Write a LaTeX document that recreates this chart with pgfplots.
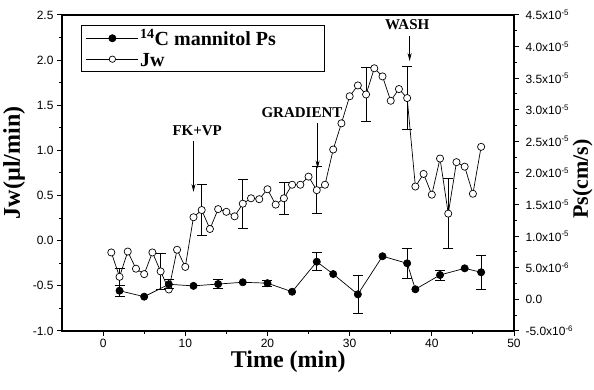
\documentclass[border=0pt]{standalone}
\usepackage{fontspec}
\setmainfont{Liberation Serif}
\newfontfamily\ticksans{Liberation Sans}
\usepackage{pgfplots}
\usepackage{pgfplotstable}
\pgfplotsset{compat=1.18}
\usetikzlibrary{arrows.meta}

\pgfplotstableread{
x jw
1 -0.13
2 -0.40
3 -0.12
4 -0.31
5 -0.37
6 -0.13
7 -0.34
8 -0.54
9 -0.10
10 -0.29
11 0.26
12 0.34
13 0.13
14 0.35
15 0.32
16 0.27
17 0.41
18 0.47
19 0.46
20 0.57
21 0.40
22 0.47
23 0.62
24 0.62
25 0.71
26 0.56
27 0.62
28 1.01
29 1.30
30 1.60
31 1.72
32 1.62
33 1.91
34 1.82
35 1.55
36 1.68
37 1.58
38 0.60
39 0.74
40 0.51
41 0.91
42 0.30
43 0.87
44 0.82
45 0.52
46 1.04
}\jwdata

\pgfplotstableread{
x jw err
2 -0.40 0.09
7 -0.34 0.20
12 0.34 0.28
17 0.41 0.27
22 0.47 0.18
26 0.56 0.26
32 1.62 0.30
37 1.58 0.35
42 0.30 0.39
}\jwerr

\pgfplotstableread{
x ps
2 1.37e-6
5 0.43e-6
8 2.39e-6
11 2.14e-6
14 2.43e-6
17 2.71e-6
20 2.57e-6
23 1.21e-6
26 5.96e-6
28 4.01e-6
31 0.80e-6
34 6.83e-6
37 5.71e-6
38 1.60e-6
41 3.86e-6
44 4.92e-6
46 4.29e-6
}\psdata

\pgfplotstableread{
x ps err
2 1.37e-6 0.93e-6
8 2.39e-6 0.71e-6
14 2.43e-6 0.71e-6
20 2.57e-6 0.43e-6
26 5.96e-6 1.43e-6
31 0.80e-6 3.0e-6
37 5.71e-6 2.43e-6
41 3.86e-6 0.79e-6
46 4.29e-6 2.71e-6
}\pserr

\pgfplotsset{
  common/.style={
    at={(0pt,0pt)}, anchor=south west,
    width=452pt, height=316pt, scale only axis,
    xmin=-5, xmax=50,
    tick align=outside,
    major tick length=5pt, minor tick length=3pt,
    axis line style={line width=1.4pt},
    every tick/.style={black, line width=1pt},
    ticklabel style={font=\ticksans\fontsize{12}{14}\selectfont},
  },
}

\begin{document}
\begin{tikzpicture}
\useasboundingbox (-62pt,-59pt) rectangle (532pt,331pt);
\begin{axis}[
  common,
  ymin=-1, ymax=2.5,
  xtick={0,10,20,30,40,50}, minor xtick={5,15,25,35,45},
  ytick={-1,-0.5,0,0.5,1,1.5,2,2.5},
  yticklabels={-1.0,-0.5,0.0,0.5,1.0,1.5,2.0,2.5},
  minor ytick={-0.75,-0.25,0.25,0.75,1.25,1.75,2.25},
  xticklabels={0,10,20,30,40,50},
  xtick pos=left, ytick pos=left,
  xlabel={Time (min)},
  ylabel={Jw(µl/min)},
  every axis x label/.style={at={(axis description cs:0.5007,-0.098)}, anchor=center, font=\bfseries\fontsize{24}{28}\selectfont},
  every axis y label/.style={at={(axis description cs:-0.106,0.532)}, rotate=90, anchor=center, font=\bfseries\fontsize{24}{28}\selectfont},
]
\addplot[forget plot, draw=none, mark=none,
  error bars/.cd, y dir=both, y explicit,
  error bar style={draw=black, line width=0.7pt},
  error mark options={rotate=90, mark size=5pt, draw=black, line width=0.7pt}]
  table[x=x, y=jw, y error=err]{\jwerr};
\addplot[black, line width=0.7pt, mark=*, mark size=3.6pt, mark options={fill=white, draw=black, line width=0.7pt}]
  table[x=x, y=jw]{\jwdata};
\node[font=\bfseries\fontsize{15}{18}\selectfont, anchor=base] at (axis cs:11.45,1.17) {FK+VP};
\draw[-{Stealth[length=8pt,width=4pt]}, line width=0.8pt] (axis cs:11,1.10) -- (axis cs:11,0.54);
\node[font=\bfseries\fontsize{15}{18}\selectfont, anchor=base] at (axis cs:24.2,1.37) {GRADIENT};
\draw[-{Stealth[length=8pt,width=4pt]}, line width=0.8pt] (axis cs:26.1,1.30) -- (axis cs:26.1,0.80);
\node[font=\bfseries\fontsize{15}{18}\selectfont, anchor=base] at (axis cs:37.0,2.34) {WASH};
\draw[-{Stealth[length=8pt,width=4pt]}, line width=0.8pt] (axis cs:37.3,2.27) -- (axis cs:37.3,1.99);
\end{axis}

\begin{axis}[
  common,
  ymin=-5e-6, ymax=4.5e-5,
  hide x axis, axis y line*=right,
  scaled y ticks=false,
  ytick={-5e-6,0,5e-6,1e-5,1.5e-5,2e-5,2.5e-5,3e-5,3.5e-5,4e-5,4.5e-5},
  yticklabels={-5.0x10\textsuperscript{-6},0.0,5.0x10\textsuperscript{-6},1.0x10\textsuperscript{-5},1.5x10\textsuperscript{-5},2.0x10\textsuperscript{-5},2.5x10\textsuperscript{-5},3.0x10\textsuperscript{-5},3.5x10\textsuperscript{-5},4.0x10\textsuperscript{-5},4.5x10\textsuperscript{-5}},
  minor ytick={-2.5e-6,2.5e-6,7.5e-6,1.25e-5,1.75e-5,2.25e-5,2.75e-5,3.25e-5,3.75e-5,4.25e-5},
  yticklabel style={xshift=3pt},
  ylabel={Ps(cm/s)},
  every axis y label/.style={at={(axis description cs:1.152,0.481)}, rotate=90, anchor=center, font=\bfseries\fontsize{22}{26}\selectfont},
  legend style={at={(axis description cs:0.041,0.968)}, anchor=north west,
    draw=black, line width=1pt, inner xsep=5pt, inner ysep=2pt,
    font=\bfseries\fontsize{20}{23}\selectfont, row sep=0pt,
    nodes={inner sep=1.5pt}},
  legend cell align=left,
  legend image code/.code={\draw[mark repeat=2, mark phase=2, #1] plot coordinates {(0pt,0pt) (26pt,0pt) (52pt,0pt)};},
]
\addplot[forget plot, draw=none, mark=none,
  error bars/.cd, y dir=both, y explicit,
  error bar style={draw=black, line width=0.7pt},
  error mark options={rotate=90, mark size=5pt, draw=black, line width=0.7pt}]
  table[x=x, y=ps, y error=err]{\pserr};
\addplot[black, line width=0.7pt, mark=*, mark size=3.6pt, mark options={fill=black, draw=black}]
  table[x=x, y=ps]{\psdata};
\addlegendentry{\makebox[178pt][l]{\strut\textsuperscript{14}C mannitol Ps}}
\addlegendimage{black, line width=0.7pt, mark=*, mark size=3.2pt, mark options={fill=white, draw=black}}
\addlegendentry{\makebox[178pt][l]{\strut Jw}}
\end{axis}
\end{tikzpicture}
\end{document}
